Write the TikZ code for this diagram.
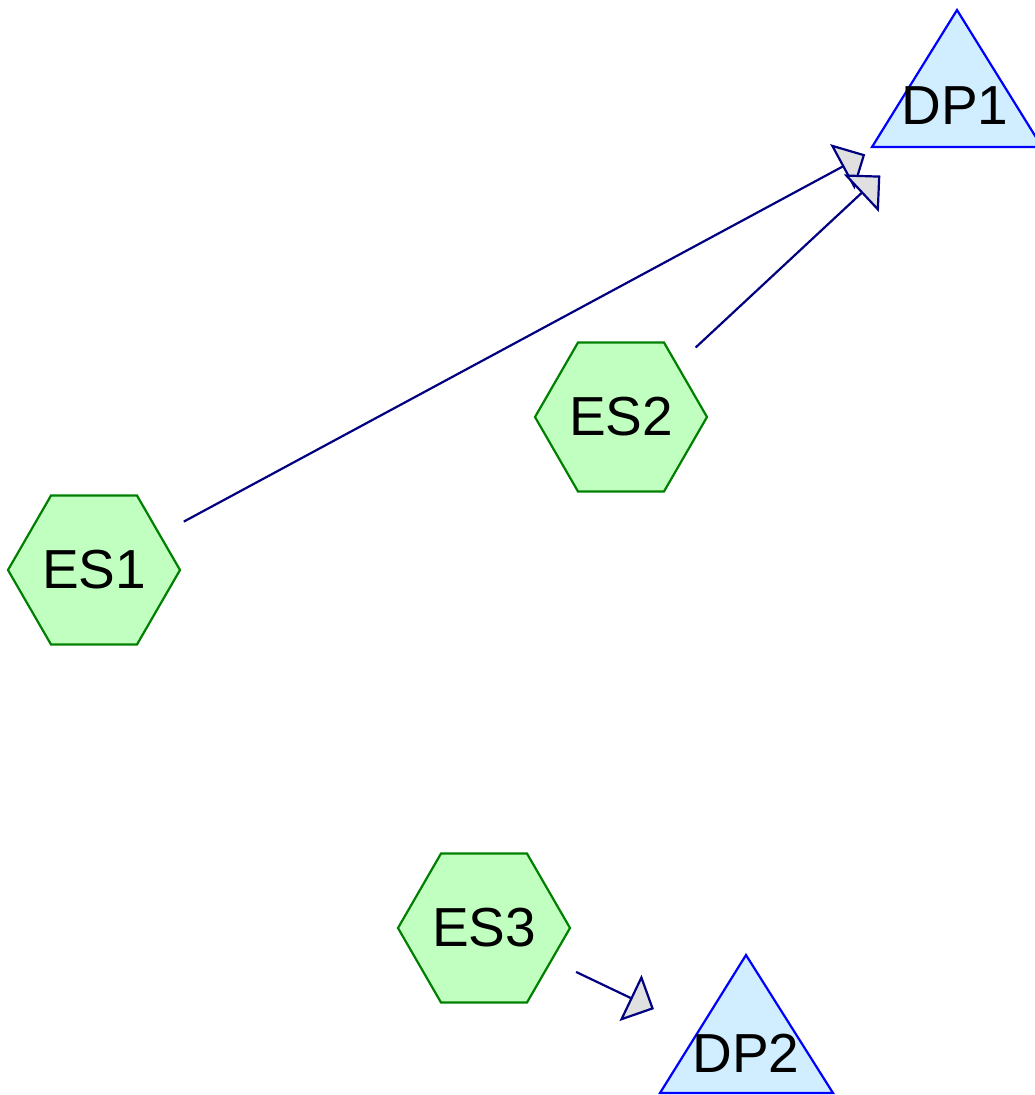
\documentclass[tikz,border=0pt]{standalone}
\usepackage{fontspec}
\setmainfont{Liberation Sans}
\usetikzlibrary{shapes.geometric,arrows.meta}
\definecolor{esfill}{HTML}{C0FFC0}
\definecolor{esline}{HTML}{008000}
\definecolor{dpfill}{HTML}{D0EEFF}
\definecolor{dpline}{HTML}{0000FF}
\definecolor{linkline}{HTML}{000080}
\definecolor{tipfill}{HTML}{E0E0E0}
\tikzset{
  sender/.style={regular polygon,regular polygon sides=6,minimum size=172pt,inner sep=0pt,
    draw=esline,fill=esfill,line width=2.2pt,font=\fontsize{55}{55}\selectfont},
  target/.style={draw=dpline,fill=dpfill,line width=2.2pt},
  dplabel/.style={inner sep=0pt,font=\fontsize{55}{55}\selectfont},
  link/.style={draw=linkline,line width=2.2pt,shorten <=102pt,shorten >=102pt,
    -{Triangle[length=26pt,width=51pt,fill=tipfill]}}
}
\begin{document}
\begin{tikzpicture}[x=1pt,y=-1pt]
\useasboundingbox (0,0) rectangle (1035,1095);
\fill[white] (0,0) rectangle (1035,1095);

\node[sender] (es1) at (94,570) {ES1};
\node[sender] (es2) at (621,417) {ES2};
\node[sender] (es3) at (484,928) {ES3};

\draw[target] (957,10) -- (1042,147) -- (872,147) -- cycle;
\node[dplabel] (dp1) at (955,106) {DP1};
\draw[target] (746,955) -- (833,1093) -- (660,1093) -- cycle;
\node[dplabel] (dp2) at (746,1053) {DP2};

\path (es1.center) edge[link] (dp1.center);
\path (es2.center) edge[link] (dp1.center);
\path (es3.center) edge[link] (dp2.center);
\end{tikzpicture}
\end{document}
